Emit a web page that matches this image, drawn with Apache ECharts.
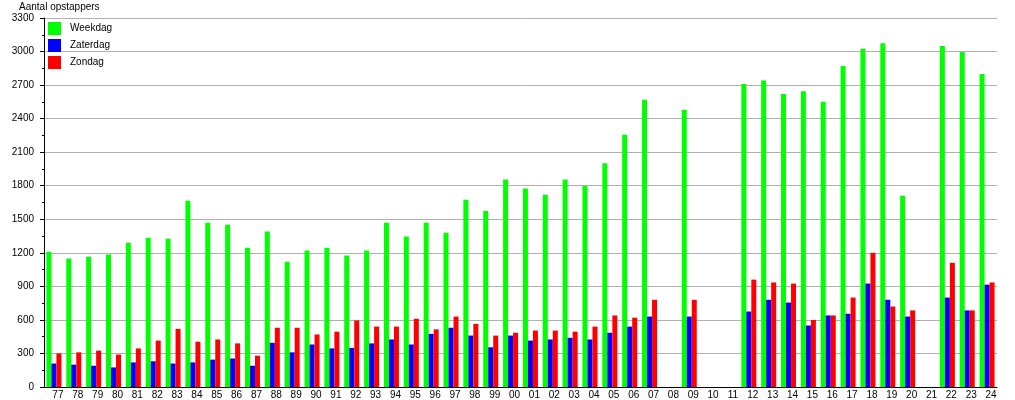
<!DOCTYPE html>
<html>
<head>
<meta charset="utf-8">
<script src="https://cdn.jsdelivr.net/npm/echarts@6/dist/echarts.min.js"></script>
<style>html,body{margin:0;padding:0;background:#fff}#c{width:1015px;height:400px}</style>
</head>
<body>
<div id="c"></div>
<script>
const categories = ['77','78','79','80','81','82','83','84','85','86','87','88','89','90','91','92','93','94','95','96','97','98','99',
  '00','01','02','03','04','05','06','07','08','09','10','11','12','13','14','15','16','17','18','19','20','21','22','23','24'];
const weekdag = [1210,1150,1165,1185,1290,1335,1325,1665,1470,1450,1245,1390,1120,1220,1245,1175,1220,1470,1345,1470,1380,1675,1575,
  1855,1775,1720,1855,1800,2000,2255,2570,null,2480,null,null,2710,2740,2620,2645,2550,2870,3025,3075,1710,null,3050,2995,2800];
const zaterdag = [210,200,190,175,220,230,210,220,245,255,190,395,310,380,345,350,390,425,380,475,530,460,355,
  460,415,425,440,425,485,540,630,null,630,null,null,675,780,755,550,640,655,925,780,630,null,800,685,915];
const zondag = [300,310,325,290,345,415,520,405,425,390,280,530,530,470,495,595,540,540,610,515,630,565,460,
  485,505,505,495,540,640,620,780,null,780,null,null,960,935,925,600,640,800,1200,720,685,null,1110,685,935];
const yTicks = {min: 0, max: 3300, interval: 300};

const FONT = 'Liberation Sans, Arial, sans-serif';
const chart = echarts.init(document.getElementById('c'), null, {renderer: 'canvas'});
chart.setOption({
  animation: false,
  backgroundColor: '#ffffff',
  title: {
    text: 'Aantal opstappers', left: 19, top: 2, padding: 0,
    textStyle: {fontFamily: FONT, fontSize: 10, fontWeight: 'normal', color: '#000'}
  },
  legend: {
    orient: 'vertical', left: 48, top: 22, padding: 0,
    itemWidth: 13, itemHeight: 13, itemGap: 4, icon: 'rect',
    textStyle: {fontFamily: FONT, fontSize: 10, color: '#000', padding: [0, 0, 0, 4]},
    data: ['Weekdag', 'Zaterdag', 'Zondag']
  },
  grid: {left: 44, top: 18, right: 18, bottom: 13, containLabel: false},
  xAxis: {
    type: 'category', data: categories,
    axisLine: {lineStyle: {color: '#000', width: 1}},
    axisTick: {show: false},
    axisLabel: {interval: 0, margin: 3, fontFamily: FONT, fontSize: 10, color: '#000', padding: [0, 0, 0, 8]},
    splitLine: {show: false}
  },
  yAxis: {
    type: 'value', min: yTicks.min, max: yTicks.max, interval: yTicks.interval,
    axisLine: {show: true, lineStyle: {color: '#000', width: 1}},
    axisTick: {show: true, length: 4, lineStyle: {color: '#000'}},
    minorTick: {show: true, splitNumber: 2, length: 2, lineStyle: {color: '#000'}},
    axisLabel: {margin: 10, fontFamily: FONT, fontSize: 10, color: '#000', formatter: v => String(v)},
    splitLine: {show: true, lineStyle: {color: '#b0b0b0', width: 1}}
  },
  series: [
    {name: 'Weekdag', type: 'bar', data: weekdag, barWidth: 5, barGap: '0%', itemStyle: {color: '#00ff00'}},
    {name: 'Zaterdag', type: 'bar', data: zaterdag, barWidth: 5, barGap: '0%', itemStyle: {color: '#0000ff'}},
    {name: 'Zondag', type: 'bar', data: zondag, barWidth: 5, barGap: '0%', itemStyle: {color: '#ff0000'}}
  ]
});
</script>
</body>
</html>
